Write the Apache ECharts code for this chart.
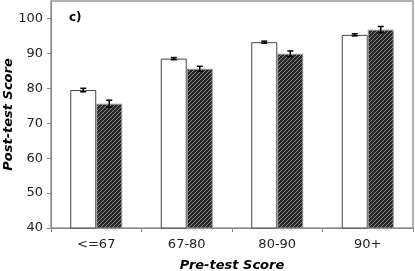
<!DOCTYPE html>
<html><head><meta charset="utf-8">
<script src="https://cdn.jsdelivr.net/npm/echarts@6/dist/echarts.min.js"></script>
<style>html,body{margin:0;padding:0;background:#fff}#c{width:415px;height:271px}</style>
</head><body><div id="c"></div>
<script>
const categories = ['<=67', '67-80', '80-90', '90+'];
const whiteValues = [79.5, 88.5, 93.2, 95.3];
const whiteErrors = [0.5, 0.3, 0.3, 0.3];
const hatchValues = [75.6, 85.6, 89.9, 96.8];
const hatchErrors = [1.0, 0.7, 0.8, 0.9];
const yTicks = [40, 50, 60, 70, 80, 90, 100];

const pc = document.createElement('canvas');
pc.width = 4; pc.height = 4;
const g = pc.getContext('2d');
g.fillStyle = '#262626'; g.fillRect(0, 0, 4, 4);
g.fillStyle = '#8a8a8a';
for (let i = 0; i < 4; i++) g.fillRect(i, 3 - i, 1, 1);

const BW = 26;
function errSeries(vals, errs, off) {
  return {
    type: 'custom', z: 5,
    data: vals.map((v, i) => [i, v, errs[i]]),
    renderItem: function (params, api) {
      const i = api.value(0), v = api.value(1), e = api.value(2);
      const hi = api.coord([i, v + e]), lo = api.coord([i, v - e]);
      const x = hi[0] + off;
      const st = {stroke: '#000', lineWidth: 1.5};
      return {type: 'group', children: [
        {type: 'line', shape: {x1: x, y1: hi[1], x2: x, y2: lo[1]}, style: st},
        {type: 'line', shape: {x1: x - 3, y1: hi[1], x2: x + 3, y2: hi[1]}, style: st},
        {type: 'line', shape: {x1: x - 3, y1: lo[1], x2: x + 3, y2: lo[1]}, style: st}
      ]};
    }
  };
}

const chart = echarts.init(document.getElementById('c'), null, {renderer: 'canvas'});
chart.setOption({
  animation: false,
  backgroundColor: '#fff',
  grid: {left: 51, right: 2, top: 1, bottom: 43, containLabel: false, outerBoundsMode: 'none',
    show: true, borderColor: '#999', borderWidth: 1.5, backgroundColor: 'transparent'},
  xAxis: {
    type: 'category', data: categories,
    axisLine: {lineStyle: {color: '#888', width: 1}},
    axisTick: {show: true, length: 4, lineStyle: {color: '#888'}},
    axisLabel: {color: '#222', fontFamily: 'DejaVu Sans', fontSize: 13, margin: 10},
    name: 'Pre-test Score', nameLocation: 'middle', nameGap: 31, nameMoveOverlap: false,
    nameTextStyle: {fontFamily: 'DejaVu Sans', fontSize: 13, fontWeight: 'bold', fontStyle: 'italic', color: '#000'}
  },
  yAxis: {
    type: 'value', min: 40, max: 105, interval: 10,
    axisLine: {show: true, lineStyle: {color: '#888', width: 1}},
    axisTick: {show: true, length: 4, lineStyle: {color: '#888'}},
    splitLine: {show: false},
    axisLabel: {color: '#222', fontFamily: 'DejaVu Sans', fontSize: 13, margin: 8, showMaxLabel: false,
      formatter: v => yTicks.indexOf(v) >= 0 ? String(v) : ''},
    name: 'Post-test Score', nameLocation: 'middle', nameGap: 36, nameRotate: 90, nameMoveOverlap: false,
    nameTextStyle: {fontFamily: 'DejaVu Sans', fontSize: 13, fontWeight: 'bold', fontStyle: 'italic', color: '#000'}
  },
  graphic: [{type: 'text', left: 69, top: 12, style: {text: 'c)', font: 'bold 12px DejaVu Sans', fill: '#000'}}],
  series: [
    {type: 'bar', data: whiteValues, barWidth: BW, barGap: '0%',
      itemStyle: {color: '#fff', borderColor: '#444', borderWidth: 1}},
    {type: 'bar', data: hatchValues, barWidth: BW, barGap: '0%',
      itemStyle: {color: {image: pc, repeat: 'repeat'}, borderColor: '#999', borderWidth: 1}},
    errSeries(whiteValues, whiteErrors, -BW / 2),
    errSeries(hatchValues, hatchErrors, BW / 2)
  ]
});
</script></body></html>
